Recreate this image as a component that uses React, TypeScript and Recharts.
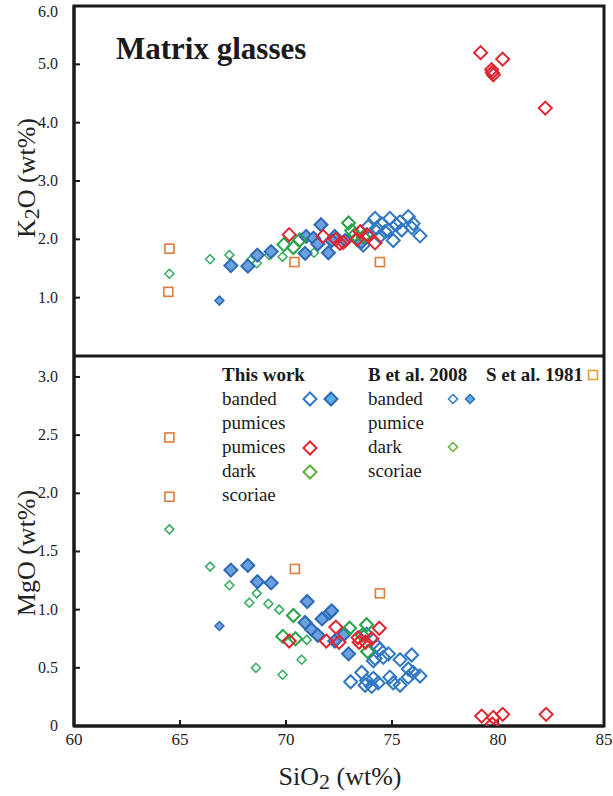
import React from "react";
import { ReferenceArea, Scatter, ScatterChart, XAxis, YAxis } from "recharts";

// [SiO2, K2O] pairs, upper panel
const k2oTwBandedOpen = [
  [74.2, 2.36], [74.5, 2.27], [74.9, 2.36], [75.2, 2.25], [75.77, 2.39],
  [76.0, 2.27], [76.32, 2.06], [75.06, 1.98], [74.67, 2.13], [74.28, 2.19],
  [75.46, 2.16], [73.8, 2.08], [73.64, 1.9], [75.93, 2.2], [74.83, 2.15],
  [75.38, 2.3], [73.88, 2.22], [74.43, 2.05],
];
const k2oTwBandedFilled = [
  [67.4, 1.55], [68.2, 1.54], [68.65, 1.73], [69.3, 1.79], [70.9, 1.76],
  [70.95, 2.05], [71.3, 2.02], [71.65, 2.25], [71.5, 1.92], [72.0, 1.77],
  [72.3, 2.05], [72.15, 1.98], [72.8, 1.98], [73.55, 1.95],
];
const k2oBBandedFilled = [[66.86, 0.95]];
const k2oTwPumices = [
  [70.15, 2.08], [71.75, 2.05], [72.35, 2.0], [72.55, 1.93], [72.7, 1.95],
  [73.35, 2.0], [73.5, 2.13], [73.85, 2.07], [74.2, 1.94],
  [79.18, 5.2], [80.22, 5.09], [79.7, 4.91], [79.73, 4.86], [79.78, 4.82],
  [82.23, 4.25],
];
const k2oTwDark = [
  [69.9, 1.91], [70.35, 1.86], [70.65, 1.99], [72.95, 2.28], [73.1, 2.15],
  [73.25, 2.08], [73.65, 2.04],
];
const k2oBDark = [
  [64.5, 1.41], [66.42, 1.66], [67.33, 1.73], [68.62, 1.59], [68.33, 1.64],
  [69.21, 1.73], [69.84, 1.7], [71.32, 1.77],
];
const k2oSetal = [[64.5, 1.84], [64.45, 1.1], [70.4, 1.61], [74.43, 1.61]];

// [SiO2, MgO] pairs, lower panel
const mgoTwBandedOpen = [
  [74.43, 0.66], [74.12, 0.56], [74.59, 0.59], [74.83, 0.62], [75.38, 0.57],
  [75.93, 0.61], [75.77, 0.49], [76.0, 0.46], [76.32, 0.43], [75.77, 0.42],
  [74.9, 0.42], [75.06, 0.37], [75.38, 0.35], [73.05, 0.38], [73.57, 0.46],
  [73.8, 0.39], [74.12, 0.41], [74.04, 0.34], [74.35, 0.37], [73.73, 0.35],
  [73.8, 0.79], [74.28, 0.69], [74.2, 0.58],
];
const mgoTwBandedFilled = [
  [67.4, 1.34], [68.2, 1.38], [68.65, 1.24], [69.3, 1.23], [71.0, 1.07],
  [70.9, 0.89], [71.2, 0.83], [71.5, 0.78], [71.7, 0.92], [72.05, 0.97],
  [72.15, 0.99], [72.3, 0.73], [72.75, 0.79], [72.95, 0.62],
];
const mgoBBandedFilled = [[66.86, 0.86]];
const mgoTwPumices = [
  [70.15, 0.73], [71.9, 0.73], [72.35, 0.85], [72.5, 0.72], [73.4, 0.76],
  [73.45, 0.72], [74.05, 0.75], [74.4, 0.84], [73.75, 0.72],
  [79.23, 0.085], [79.78, 0.074], [79.73, 0.017], [80.22, 0.1], [82.27, 0.1],
];
const mgoTwDark = [
  [70.35, 0.95], [69.85, 0.77], [70.45, 0.75], [73.0, 0.84], [73.8, 0.87],
  [73.6, 0.78], [73.85, 0.64],
];
const mgoBDark = [
  [64.5, 1.69], [66.42, 1.37], [67.33, 1.21], [68.62, 1.14], [68.27, 1.06],
  [69.17, 1.05], [69.68, 1.0], [70.98, 0.74], [70.74, 0.57], [68.58, 0.5],
  [69.84, 0.44],
];
const mgoSetal = [[64.5, 2.48], [64.5, 1.97], [70.42, 1.35], [74.43, 1.14]];

const xTicks = [60, 65, 70, 75, 80, 85];
const k2oTicks = [0, 1, 2, 3, 4, 5, 6];
const mgoTicks = [0, 0.5, 1, 1.5, 2, 2.5, 3];

const SERIF = "'Times New Roman', Times, 'Liberation Serif', Tinos, 'Nimbus Roman', serif";
const AXIS = "#1a1a1a";
const BLUE = "#2f77c2";
const FILL_STROKE = "#2d6ab5";
const FILL = "#6c9fe0";
const RED = "#e3242f";
const GREEN_TW = "#27a348";
const GREEN_B = "#33ad5e";
const ORANGE = "#e07b3c";

const toPts = (a: number[][]) => a.map(([x, y]) => ({ x, y }));

const diamond =
  (r: number, fill: string, stroke: string, sw: number) => (p: any) => {
    const { cx, cy } = p;
    return (
      <polygon
        points={`${cx},${cy - r} ${cx + r},${cy} ${cx},${cy + r} ${cx - r},${cy}`}
        fill={fill}
        stroke={stroke}
        strokeWidth={sw}
      />
    );
  };

const square = (h: number, stroke: string) => (p: any) => {
  const { cx, cy } = p;
  return (
    <rect x={cx - h} y={cy - h} width={2 * h} height={2 * h} fill="none" stroke={stroke} strokeWidth={1.6} />
  );
};

const shapes = {
  twOpen: diamond(6.5, "none", BLUE, 2),
  twFilled: diamond(6.5, FILL, FILL_STROKE, 2),
  bFilled: diamond(4.5, FILL, FILL_STROKE, 1.5),
  bOpen: diamond(4.5, "none", BLUE, 1.5),
  red: diamond(6.5, "none", RED, 2),
  twDark: diamond(6.5, "none", GREEN_TW, 2),
  bDark: diamond(4.5, "none", GREEN_B, 1.5),
  setal: square(4.5, ORANGE),
};

const fmtY = (v: number) => (v === 0 ? "0" : v.toFixed(1));

// y tick labels, kept inside the page at the top edge
const YTick = (p: any) => (
  <text
    x={p.x}
    y={Math.max(p.y, 12)}
    dy={5}
    textAnchor="end"
    style={{ fontFamily: SERIF, fontSize: 16 }}
    fill="#222"
  >
    {fmtY(p.payload.value)}
  </text>
);

const XTick = (p: any) => (
  <text
    x={p.x}
    y={p.y}
    dy={13}
    textAnchor="middle"
    style={{ fontFamily: SERIF, fontSize: 17 }}
    fill="#222"
  >
    {p.payload.value}
  </text>
);

function series(sets: {
  setal: number[][];
  bDark: number[][];
  twOpen: number[][];
  twFilled: number[][];
  bFilled: number[][];
  twDark: number[][];
  red: number[][];
}) {
  return [
    <Scatter key="s" data={toPts(sets.setal)} shape={shapes.setal} isAnimationActive={false} />,
    <Scatter key="bd" data={toPts(sets.bDark)} shape={shapes.bDark} isAnimationActive={false} />,
    <Scatter key="to" data={toPts(sets.twOpen)} shape={shapes.twOpen} isAnimationActive={false} />,
    <Scatter key="tf" data={toPts(sets.twFilled)} shape={shapes.twFilled} isAnimationActive={false} />,
    <Scatter key="bf" data={toPts(sets.bFilled)} shape={shapes.bFilled} isAnimationActive={false} />,
    <Scatter key="td" data={toPts(sets.twDark)} shape={shapes.twDark} isAnimationActive={false} />,
    <Scatter key="r" data={toPts(sets.red)} shape={shapes.red} isAnimationActive={false} />,
  ];
}

function Legend() {
  const t = { style: { fontFamily: SERIF, fontSize: 19 }, fill: "#1a1a1a" };
  const b = { style: { fontFamily: SERIF, fontSize: 19, fontWeight: 700 }, fill: "#1a1a1a" };
  return (
    <g>
      <text x={222} y={381} {...b}>This work</text>
      <text x={222} y={405} {...t}>banded</text>
      <text x={222} y={429} {...t}>pumices</text>
      <text x={222} y={453} {...t}>pumices</text>
      <text x={222} y={477} {...t}>dark</text>
      <text x={222} y={501} {...t}>scoriae</text>
      {shapes.twOpen({ cx: 310, cy: 399 })}
      {diamond(6.5, "#5aaee8", FILL_STROKE, 2)({ cx: 331, cy: 399 })}
      {shapes.red({ cx: 310, cy: 448 })}
      {diamond(6.5, "none", "#5fae3f", 2)({ cx: 310, cy: 472 })}

      <text x={368} y={381} {...b}>B et al. 2008</text>
      <text x={368} y={405} {...t}>banded</text>
      <text x={368} y={429} {...t}>pumice</text>
      <text x={368} y={453} {...t}>dark</text>
      <text x={368} y={477} {...t}>scoriae</text>
      {shapes.bOpen({ cx: 453, cy: 399 })}
      {diamond(4.5, "#5aaee8", FILL_STROKE, 1.5)({ cx: 470, cy: 399 })}
      {diamond(4.5, "none", "#5fae3f", 1.5)({ cx: 453, cy: 447 })}

      <text x={486} y={381} {...b}>S et al. 1981</text>
      {square(4.5, "#e8a030")({ cx: 593, cy: 375 })}
    </g>
  );
}

export default function App() {
  const title = { style: { fontFamily: SERIF, fontSize: 26 }, fill: "#222" };
  return (
    <div style={{ position: "absolute", left: 0, top: 0, width: 613, height: 796, background: "#fff" }}>
      <div style={{ position: "absolute", left: 0, top: 0 }}>
        <ScatterChart width={613} height={356} margin={{ top: 6, right: 9, bottom: 0, left: 0 }}>
          <XAxis
            type="number"
            dataKey="x"
            domain={[60, 85]}
            ticks={xTicks}
            height={0}
            tickSize={-6}
            tick={() => <g />}
            axisLine={{ stroke: AXIS, strokeWidth: 3 }}
            tickLine={{ stroke: AXIS, strokeWidth: 2 }}
            allowDataOverflow
          />
          <YAxis
            type="number"
            dataKey="y"
            domain={[0, 6]}
            ticks={k2oTicks}
            width={74}
            tickSize={-6}
            tickMargin={22}
            tick={YTick}
            axisLine={{ stroke: AXIS, strokeWidth: 3 }}
            tickLine={{ stroke: AXIS, strokeWidth: 2 }}
            allowDataOverflow
          />
          <ReferenceArea x1={60} x2={85} y1={0} y2={6} fill="none" stroke={AXIS} strokeWidth={3} ifOverflow="visible" />
          {series({
            setal: k2oSetal,
            bDark: k2oBDark,
            twOpen: k2oTwBandedOpen,
            twFilled: k2oTwBandedFilled,
            bFilled: k2oBBandedFilled,
            twDark: k2oTwDark,
            red: k2oTwPumices,
          })}
        </ScatterChart>
      </div>
      <div style={{ position: "absolute", left: 0, top: 356 }}>
        <ScatterChart width={613} height={440} margin={{ top: 0, right: 9, bottom: 0, left: 0 }}>
          <XAxis
            type="number"
            dataKey="x"
            domain={[60, 85]}
            ticks={xTicks}
            height={70}
            tickSize={-6}
            tickMargin={12}
            tick={XTick}
            axisLine={{ stroke: AXIS, strokeWidth: 3 }}
            tickLine={{ stroke: AXIS, strokeWidth: 2 }}
            allowDataOverflow
          />
          <YAxis
            type="number"
            dataKey="y"
            domain={[0, 3.18]}
            ticks={mgoTicks}
            width={74}
            tickSize={-6}
            tickMargin={22}
            tick={YTick}
            axisLine={{ stroke: AXIS, strokeWidth: 3 }}
            tickLine={{ stroke: AXIS, strokeWidth: 2 }}
            allowDataOverflow
          />
          <ReferenceArea x1={60} x2={85} y1={0} y2={3.18} fill="none" stroke={AXIS} strokeWidth={3} ifOverflow="visible" />
          {series({
            setal: mgoSetal,
            bDark: mgoBDark,
            twOpen: mgoTwBandedOpen,
            twFilled: mgoTwBandedFilled,
            bFilled: mgoBBandedFilled,
            twDark: mgoTwDark,
            red: mgoTwPumices,
          })}
        </ScatterChart>
      </div>
      <svg
        width={613}
        height={796}
        style={{ position: "absolute", left: 0, top: 0, pointerEvents: "none" }}
      >
        <text x={116} y={59} style={{ fontFamily: SERIF, fontSize: 31, fontWeight: 700 }} fill="#1a1a1a">
          Matrix glasses
        </text>
        <text transform="translate(35,178) rotate(-90)" textAnchor="middle" {...title}>
          K<tspan style={{ fontSize: 22 }} dy={4}>2</tspan>
          <tspan dy={-4}>O (wt%)</tspan>
        </text>
        <text transform="translate(35,553) rotate(-90)" textAnchor="middle" {...title}>
          MgO (wt%)
        </text>
        <text x={340} y={785} textAnchor="middle" {...title}>
          SiO<tspan style={{ fontSize: 22 }} dy={4}>2</tspan>
          <tspan dy={-4}> (wt%)</tspan>
        </text>
        <Legend />
      </svg>
    </div>
  );
}
